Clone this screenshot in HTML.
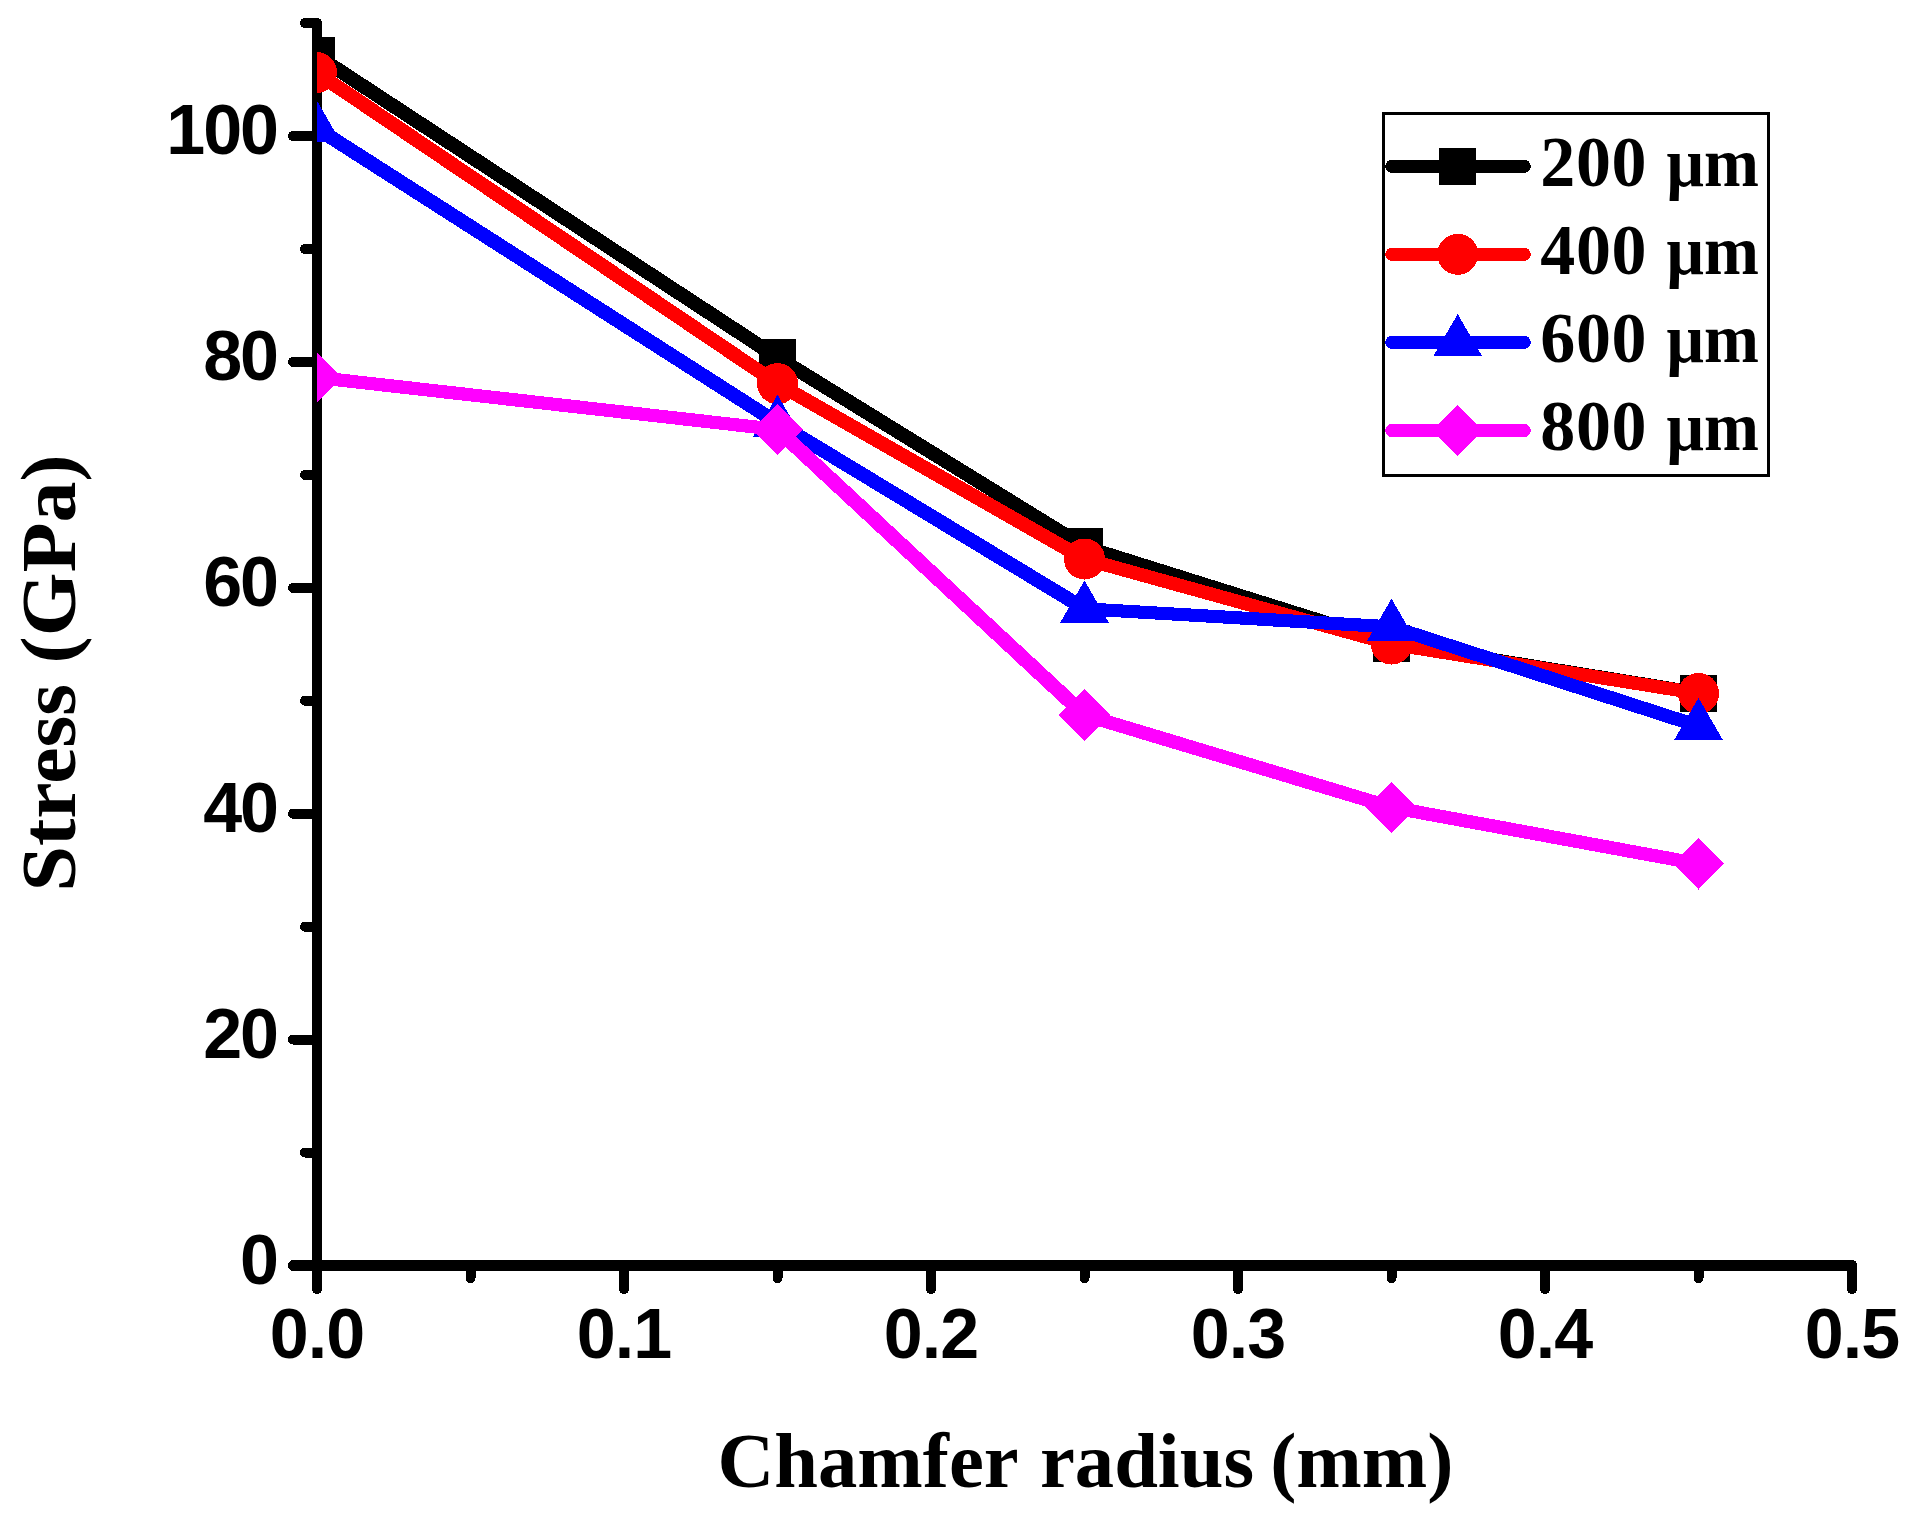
<!DOCTYPE html>
<html lang="en">
<head>
<meta charset="utf-8">
<title>Stress vs Chamfer radius</title>
<style>
html,body{margin:0;padding:0;background:#ffffff;}
body{width:1919px;height:1520px;overflow:hidden;}
svg{display:block;}
.tick{font-family:"Liberation Sans",Arial,Helvetica,sans-serif;font-weight:bold;font-size:70px;fill:#000;}
.ttl{font-family:"Liberation Serif","Times New Roman",Times,serif;font-weight:bold;font-size:78.6px;fill:#000;}
.leg{font-family:"Liberation Serif","Times New Roman",Times,serif;font-weight:bold;font-size:70px;fill:#000;}
</style>
</head>
<body>
<svg width="1919" height="1520" viewBox="0 0 1919 1520" shape-rendering="crispEdges">
<defs><clipPath id="plotclip"><rect x="317" y="0" width="1602" height="1266"/></clipPath></defs>
<rect x="0" y="0" width="1919" height="1520" fill="#ffffff"/>

<g stroke="#000" stroke-width="10" stroke-linecap="round" fill="none">
<line x1="317" y1="23" x2="317" y2="1289"/>
<line x1="293.5" y1="1265.5" x2="1852" y2="1265.5" stroke-width="11"/>
<line x1="305" y1="1152.55" x2="317" y2="1152.55"/>
<line x1="293" y1="1039.60" x2="317" y2="1039.60"/>
<line x1="305" y1="926.65" x2="317" y2="926.65"/>
<line x1="293" y1="813.70" x2="317" y2="813.70"/>
<line x1="305" y1="700.75" x2="317" y2="700.75"/>
<line x1="293" y1="587.80" x2="317" y2="587.80"/>
<line x1="305" y1="474.85" x2="317" y2="474.85"/>
<line x1="293" y1="361.90" x2="317" y2="361.90"/>
<line x1="305" y1="248.95" x2="317" y2="248.95"/>
<line x1="293" y1="136.00" x2="317" y2="136.00"/>
<line x1="305" y1="23.05" x2="317" y2="23.05"/>
<line x1="317.00" y1="1265.5" x2="317.00" y2="1289"/>
<line x1="470.50" y1="1265.5" x2="470.50" y2="1278"/>
<line x1="624.00" y1="1265.5" x2="624.00" y2="1289"/>
<line x1="777.50" y1="1265.5" x2="777.50" y2="1278"/>
<line x1="931.00" y1="1265.5" x2="931.00" y2="1289"/>
<line x1="1084.50" y1="1265.5" x2="1084.50" y2="1278"/>
<line x1="1238.00" y1="1265.5" x2="1238.00" y2="1289"/>
<line x1="1391.50" y1="1265.5" x2="1391.50" y2="1278"/>
<line x1="1545.00" y1="1265.5" x2="1545.00" y2="1289"/>
<line x1="1698.50" y1="1265.5" x2="1698.50" y2="1278"/>
<line x1="1852.00" y1="1265.5" x2="1852.00" y2="1289"/>
</g>
<g class="tick" text-anchor="end" letter-spacing="-2">
<text x="277" y="1283.8">0</text>
<text x="277" y="1057.9">20</text>
<text x="277" y="832.0">40</text>
<text x="277" y="606.1">60</text>
<text x="277" y="380.2">80</text>
<text x="277" y="154.3">100</text>
</g>
<g class="tick" text-anchor="middle" letter-spacing="-1">
<text x="317.0" y="1358">0.0</text>
<text x="624.0" y="1358">0.1</text>
<text x="931.0" y="1358">0.2</text>
<text x="1238.0" y="1358">0.3</text>
<text x="1545.0" y="1358">0.4</text>
<text x="1852.0" y="1358">0.5</text>
</g>
<text class="ttl" x="1085.5" y="1487" text-anchor="middle">Chamfer <tspan dx="3">radius</tspan> <tspan dx="-3.5">(mm)</tspan></text>
<text class="ttl" transform="translate(75,891.4) rotate(-90)" textLength="437" lengthAdjust="spacingAndGlyphs">Stress (GPa)</text>
<g clip-path="url(#plotclip)">
<g stroke="#000000" stroke-linecap="round" fill="none">
<line x1="316.4" y1="55.5" x2="777.5" y2="357.5" stroke-width="14.18"/>
<line x1="777.5" y1="357.5" x2="1084.5" y2="546.8" stroke-width="14.11"/>
<line x1="1084.5" y1="546.8" x2="1391.5" y2="643.1" stroke-width="13.56"/>
<line x1="1391.5" y1="643.1" x2="1698.5" y2="693.0" stroke-width="13.29"/>
</g>
<rect x="297.9" y="37.0" width="37" height="37" fill="#000000"/>
<rect x="759.0" y="339.0" width="37" height="37" fill="#000000"/>
<rect x="1066.0" y="528.3" width="37" height="37" fill="#000000"/>
<rect x="1373.0" y="624.6" width="37" height="37" fill="#000000"/>
<rect x="1680.0" y="674.5" width="37" height="37" fill="#000000"/>
<g stroke="#ff0000" stroke-linecap="round" fill="none">
<line x1="316.4" y1="72.5" x2="777.5" y2="383.7" stroke-width="14.21"/>
<line x1="777.5" y1="383.7" x2="1084.5" y2="559.0" stroke-width="14.03"/>
<line x1="1084.5" y1="559.0" x2="1391.5" y2="644.1" stroke-width="13.50"/>
<line x1="1391.5" y1="644.1" x2="1698.5" y2="693.4" stroke-width="13.29"/>
</g>
<circle cx="316.4" cy="72.5" r="20.5" fill="#ff0000"/>
<circle cx="777.5" cy="383.7" r="20.5" fill="#ff0000"/>
<circle cx="1084.5" cy="559.0" r="20.5" fill="#ff0000"/>
<circle cx="1391.5" cy="644.1" r="20.5" fill="#ff0000"/>
<circle cx="1698.5" cy="693.4" r="20.5" fill="#ff0000"/>
<g stroke="#0000ff" stroke-linecap="round" fill="none">
<line x1="316.4" y1="128.0" x2="777.5" y2="423.0" stroke-width="14.15"/>
<line x1="777.5" y1="423.0" x2="1084.5" y2="608.8" stroke-width="14.09"/>
<line x1="1084.5" y1="608.8" x2="1391.5" y2="626.9" stroke-width="13.11"/>
<line x1="1391.5" y1="626.9" x2="1698.5" y2="726.1" stroke-width="13.58"/>
</g>
<polygon points="316.4,99.7 340.9,142.1 291.9,142.1" fill="#0000ff"/>
<polygon points="777.5,394.7 802.0,437.1 753.0,437.1" fill="#0000ff"/>
<polygon points="1084.5,580.5 1109.0,622.9 1060.0,622.9" fill="#0000ff"/>
<polygon points="1391.5,598.6 1416.0,641.0 1367.0,641.0" fill="#0000ff"/>
<polygon points="1698.5,697.8 1723.0,740.2 1674.0,740.2" fill="#0000ff"/>
<g stroke="#ff00ff" stroke-linecap="round" fill="none">
<line x1="316.4" y1="377.4" x2="777.5" y2="429.5" stroke-width="13.20"/>
<line x1="777.5" y1="429.5" x2="1084.5" y2="715.0" stroke-width="14.67"/>
<line x1="1084.5" y1="715.0" x2="1391.5" y2="807.3" stroke-width="13.54"/>
<line x1="1391.5" y1="807.3" x2="1698.5" y2="863.8" stroke-width="13.33"/>
</g>
<polygon points="316.4,351.7 342.1,377.4 316.4,403.1 290.7,377.4" fill="#ff00ff"/>
<polygon points="777.5,403.8 803.2,429.5 777.5,455.2 751.8,429.5" fill="#ff00ff"/>
<polygon points="1084.5,689.3 1110.2,715.0 1084.5,740.7 1058.8,715.0" fill="#ff00ff"/>
<polygon points="1391.5,781.6 1417.2,807.3 1391.5,833.0 1365.8,807.3" fill="#ff00ff"/>
<polygon points="1698.5,838.1 1724.2,863.8 1698.5,889.5 1672.8,863.8" fill="#ff00ff"/>
</g>
<rect x="1383.5" y="113.5" width="385" height="362" fill="#ffffff" stroke="#000" stroke-width="3"/>
<line x1="1391.7" y1="166.3" x2="1524.3" y2="166.3" stroke="#000000" stroke-width="13" stroke-linecap="round"/>
<rect x="1439.2" y="147.8" width="37" height="37" fill="#000000"/>
<text class="leg" transform="translate(1540.3,185.8) scale(1,1.033)" letter-spacing="0.6">200</text>
<text class="leg" transform="translate(1666.6,185.8) scale(0.9424,1)">μm</text>
<line x1="1391.7" y1="254.3" x2="1524.3" y2="254.3" stroke="#ff0000" stroke-width="13" stroke-linecap="round"/>
<circle cx="1457.7" cy="254.3" r="20.5" fill="#ff0000"/>
<text class="leg" transform="translate(1540.3,273.8) scale(1,1.033)" letter-spacing="0.6">400</text>
<text class="leg" transform="translate(1666.6,273.8) scale(0.9424,1)">μm</text>
<line x1="1391.7" y1="342.3" x2="1524.3" y2="342.3" stroke="#0000ff" stroke-width="13" stroke-linecap="round"/>
<polygon points="1457.7,314.0 1482.2,356.4 1433.2,356.4" fill="#0000ff"/>
<text class="leg" transform="translate(1540.3,361.8) scale(1,1.033)" letter-spacing="0.6">600</text>
<text class="leg" transform="translate(1666.6,361.8) scale(0.9424,1)">μm</text>
<line x1="1391.7" y1="430.5" x2="1524.3" y2="430.5" stroke="#ff00ff" stroke-width="13" stroke-linecap="round"/>
<polygon points="1457.7,404.8 1483.4,430.5 1457.7,456.2 1432.0,430.5" fill="#ff00ff"/>
<text class="leg" transform="translate(1540.3,450.0) scale(1,1.033)" letter-spacing="0.6">800</text>
<text class="leg" transform="translate(1666.6,450.0) scale(0.9424,1)">μm</text>
</svg>
</body>
</html>
